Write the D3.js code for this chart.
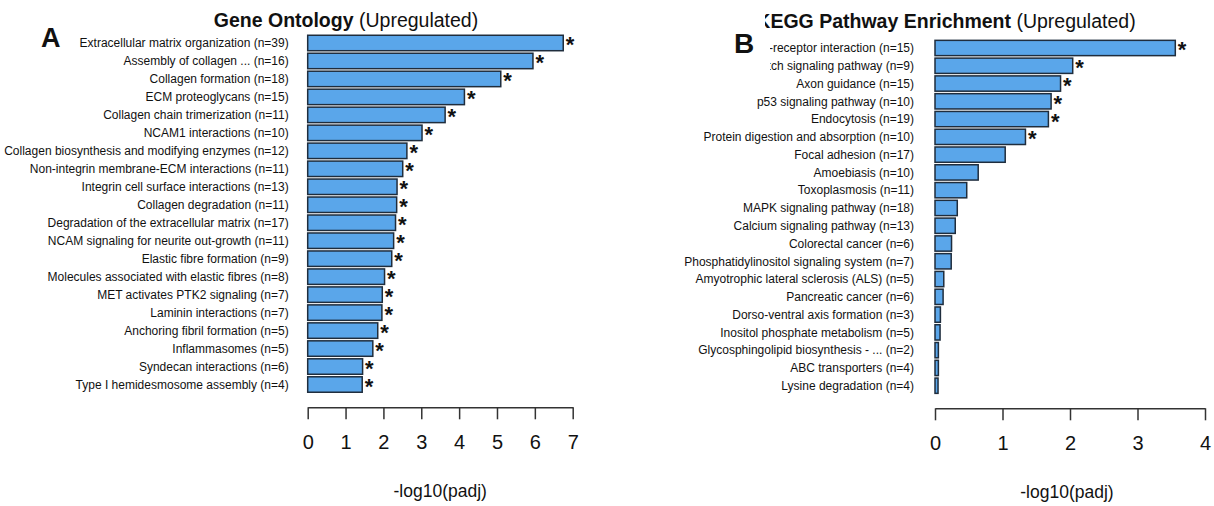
<!DOCTYPE html>
<html>
<head>
<meta charset="utf-8">
<script src="https://cdn.jsdelivr.net/npm/d3@7"></script>
<style>
  body { margin: 0; background: #fff; }
  text { font-family: "Liberation Sans", Arial, sans-serif; fill: #111; }
</style>
</head>
<body>
<div id="chart"></div>
<script>
// panel A - Gene Ontology
var goTerms = [
  "Extracellular matrix organization (n=39)",
  "Assembly of collagen ... (n=16)",
  "Collagen formation (n=18)",
  "ECM proteoglycans (n=15)",
  "Collagen chain trimerization (n=11)",
  "NCAM1 interactions (n=10)",
  "Collagen biosynthesis and modifying enzymes (n=12)",
  "Non-integrin membrane-ECM interactions (n=11)",
  "Integrin cell surface interactions (n=13)",
  "Collagen degradation (n=11)",
  "Degradation of the extracellular matrix (n=17)",
  "NCAM signaling for neurite out-growth (n=11)",
  "Elastic fibre formation (n=9)",
  "Molecules associated with elastic fibres (n=8)",
  "MET activates PTK2 signaling (n=7)",
  "Laminin interactions (n=7)",
  "Anchoring fibril formation (n=5)",
  "Inflammasomes (n=5)",
  "Syndecan interactions (n=6)",
  "Type I hemidesmosome assembly (n=4)"
];
var goValues = [6.75, 5.95, 5.10, 4.14, 3.63, 3.02, 2.62, 2.51, 2.36, 2.35,
                2.32, 2.27, 2.22, 2.03, 1.97, 1.96, 1.85, 1.72, 1.45, 1.44];
var goSig = [1,1,1,1,1,1,1,1,1,1,1,1,1,1,1,1,1,1,1,1];
var goTicks = [0, 1, 2, 3, 4, 5, 6, 7];

// panel B - KEGG
var keggTerms = [
  "ECM-receptor interaction (n=15)",
  "Notch signaling pathway (n=9)",
  "Axon guidance (n=15)",
  "p53 signaling pathway (n=10)",
  "Endocytosis (n=19)",
  "Protein digestion and absorption (n=10)",
  "Focal adhesion (n=17)",
  "Amoebiasis (n=10)",
  "Toxoplasmosis (n=11)",
  "MAPK signaling pathway (n=18)",
  "Calcium signaling pathway (n=13)",
  "Colorectal cancer (n=6)",
  "Phosphatidylinositol signaling system (n=7)",
  "Amyotrophic lateral sclerosis (ALS) (n=5)",
  "Pancreatic cancer (n=6)",
  "Dorso-ventral axis formation (n=3)",
  "Inositol phosphate metabolism (n=5)",
  "Glycosphingolipid biosynthesis - ... (n=2)",
  "ABC transporters (n=4)",
  "Lysine degradation (n=4)"
];
var keggValues = [3.56, 2.04, 1.86, 1.72, 1.68, 1.34, 1.04, 0.64, 0.47, 0.33,
                  0.30, 0.245, 0.24, 0.13, 0.12, 0.08, 0.075, 0.05, 0.05, 0.045];
var keggSig = [1,1,1,1,1,1,0,0,0,0,0,0,0,0,0,0,0,0,0,0];
var keggTicks = [0, 1, 2, 3, 4];

var width = 1214, height = 506;

var svg = d3.select("#chart").append("svg")
    .attr("width", width)
    .attr("height", height)
    .style("background", "#fff");

function drawPanel(p) {
    var rows = p.terms.map(function (t, i) {
        return { term: t, value: p.values[i], sig: p.sig[i] };
    });

    var x = d3.scaleLinear().domain([0, d3.max(p.ticks)]).range(p.xRange);
    var y = d3.scaleBand().domain(p.terms).range(p.yRange)
        .paddingInner(0.14).paddingOuter(0.07);

    var g = svg.append("g");

    g.selectAll("rect.bar")
        .data(rows)
        .enter().append("rect")
        .attr("class", "bar")
        .attr("x", x(0))
        .attr("y", function (d) { return y(d.term); })
        .attr("width", function (d) { return x(d.value) - x(0); })
        .attr("height", y.bandwidth())
        .style("fill", "#5aa6ea")
        .style("stroke", "#1f2d3d")
        .style("stroke-width", 1.5);

    // category labels
    g.selectAll("text.lab")
        .data(rows)
        .enter().append("text")
        .attr("class", "lab")
        .attr("x", x(0) - p.labelGap)
        .attr("y", function (d) { return y(d.term) + y.bandwidth() / 2 + 4.3; })
        .style("text-anchor", "end")
        .style("font-size", "12px")
        .text(function (d) { return d.term; });

    // significance stars
    g.selectAll("text.star")
        .data(rows.filter(function (d) { return d.sig; }))
        .enter().append("text")
        .attr("class", "star")
        .attr("x", function (d) { return x(d.value) + 2.5; })
        .attr("y", function (d) { return y(d.term) + y.bandwidth() / 2 + 9.5; })
        .style("font-size", "22px")
        .style("font-weight", "bold")
        .text("*");

    // x axis, R style
    var axis = g.append("g")
        .attr("transform", "translate(0," + p.axisY + ")")
        .call(d3.axisBottom(x).tickValues(p.ticks).tickSize(12)
            .tickSizeOuter(0).tickPadding(16).tickFormat(d3.format("d")));
    axis.select(".domain").style("stroke", "#333").style("stroke-width", 1.5);
    axis.selectAll(".tick line").style("stroke", "#333").style("stroke-width", 1.5);
    axis.selectAll(".tick text")
        .style("font-size", "20px")
        .style("font-family", "'Liberation Sans', Arial, sans-serif")
        .style("fill", "#111");

    g.append("text")
        .attr("x", (p.xRange[0] + p.xRange[1]) / 2 + p.titleShift)
        .attr("y", p.axisY + 90)
        .style("text-anchor", "middle")
        .style("font-size", "17.5px")
        .text("-log10(padj)");
}

drawPanel({
    terms: goTerms, values: goValues, sig: goSig, ticks: goTicks,
    xRange: [307.7, 572.7], yRange: [34, 393.5], axisY: 407.3,
    labelGap: 19, titleShift: 0
});

drawPanel({
    terms: keggTerms, values: keggValues, sig: keggSig, ticks: keggTicks,
    xRange: [935, 1205], yRange: [39.1, 394.6], axisY: 408.3,
    labelGap: 21, titleShift: -3
});

// titles
var tA = svg.append("text")
    .attr("x", 346).attr("y", 27)
    .style("text-anchor", "middle")
    .style("font-size", "19.5px");
tA.append("tspan").style("font-weight", "bold").text("Gene Ontology");
tA.append("tspan").text(" (Upregulated)");

var tB = svg.append("text")
    .attr("x", 946).attr("y", 28)
    .style("text-anchor", "middle")
    .style("font-size", "19.5px");
tB.append("tspan").style("font-weight", "bold").text("KEGG Pathway Enrichment");
tB.append("tspan").text(" (Upregulated)");

// panel B is cropped on the left in the figure
svg.append("rect")
    .attr("x", 600).attr("y", 0)
    .attr("width", 165).attr("height", 36)
    .style("fill", "#fff");
svg.append("rect")
    .attr("x", 600).attr("y", 36)
    .attr("width", 170).attr("height", 40)
    .style("fill", "#fff");

svg.append("text")
    .attr("x", 41).attr("y", 47)
    .style("font-size", "27px")
    .style("font-weight", "bold")
    .text("A");

svg.append("text")
    .attr("x", 734).attr("y", 53)
    .style("font-size", "28px")
    .style("font-weight", "bold")
    .text("B");
</script>
</body>
</html>
